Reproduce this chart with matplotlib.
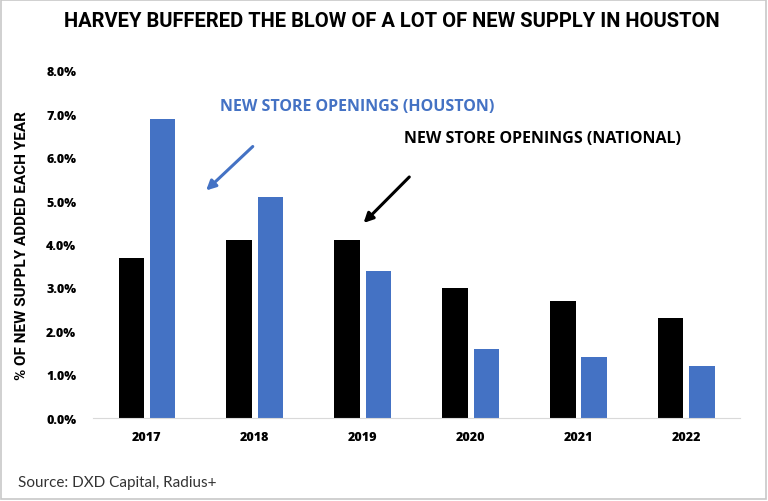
import numpy as np
import matplotlib.pyplot as plt
from matplotlib.patches import Rectangle

years = ['2017', '2018', '2019', '2020', '2021', '2022']
national = [3.7, 4.1, 4.1, 3.0, 2.7, 2.3]
houston = [6.9, 5.1, 3.4, 1.6, 1.4, 1.2]
yticks = [0, 1, 2, 3, 4, 5, 6, 7, 8]

blue = '#4472C4'

fig = plt.figure(figsize=(7.68, 5.02), dpi=100)
ax = fig.add_axes([0.121, 0.165, 0.843, 0.692])

x = np.arange(len(years))
w = 0.235
ax.bar(x - 0.145, national, w, color='black')
ax.bar(x + 0.145, houston, w, color=blue)

ax.set_xlim(-0.5, 5.5)
ax.set_ylim(0, 8)
ax.set_yticks(yticks)
ax.set_yticklabels(['%.1f%%' % v for v in yticks], fontsize=9, fontweight='heavy', family='Open Sans')
ax.set_xticks(x)
ax.set_xticklabels(years, fontsize=9, fontweight='heavy', family='Open Sans')
ax.tick_params(length=0, pad=9)
ax.tick_params(axis='y', pad=12)
for s in ['top', 'right', 'left']:
    ax.spines[s].set_visible(False)
ax.spines['bottom'].set_color('#d9d9d9')

ax.set_ylabel('% OF NEW SUPPLY ADDED EACH YEAR', fontsize=11, fontweight='bold',
              family='Roboto', labelpad=12)

fig.text(0.51, 0.958, 'HARVEY BUFFERED THE BLOW OF A LOT OF NEW SUPPLY IN HOUSTON',
         ha='center', va='center', fontsize=14.5, fontweight='bold', family='Roboto')

# annotations
ax.annotate('', xy=(0.53, 5.2), xytext=(1.0, 6.3),
            arrowprops=dict(arrowstyle='-|>', color=blue, lw=2.2, mutation_scale=14))
ax.text(0.68, 7.2, 'NEW STORE OPENINGS (HOUSTON)', color=blue, fontsize=11.5,
        fontweight='bold', family='Open Sans', va='center')
ax.annotate('', xy=(1.99, 4.45), xytext=(2.45, 5.6),
            arrowprops=dict(arrowstyle='-|>', color='black', lw=2.2, mutation_scale=14))
ax.text(2.38, 6.45, 'NEW STORE OPENINGS (NATIONAL)', color='black', fontsize=11.5,
        fontweight='bold', family='Open Sans', va='center')

fig.text(0.023, 0.038, 'Source: DXD Capital, Radius+', fontsize=11, color='#333333',
         family='Lato', va='center')

fig.patches.append(Rectangle((0.001, 0.003), 0.997, 0.995, transform=fig.transFigure,
                             fill=False, edgecolor='#c8c8c8', lw=1.2))

fig.savefig('out.png', dpi=100)
